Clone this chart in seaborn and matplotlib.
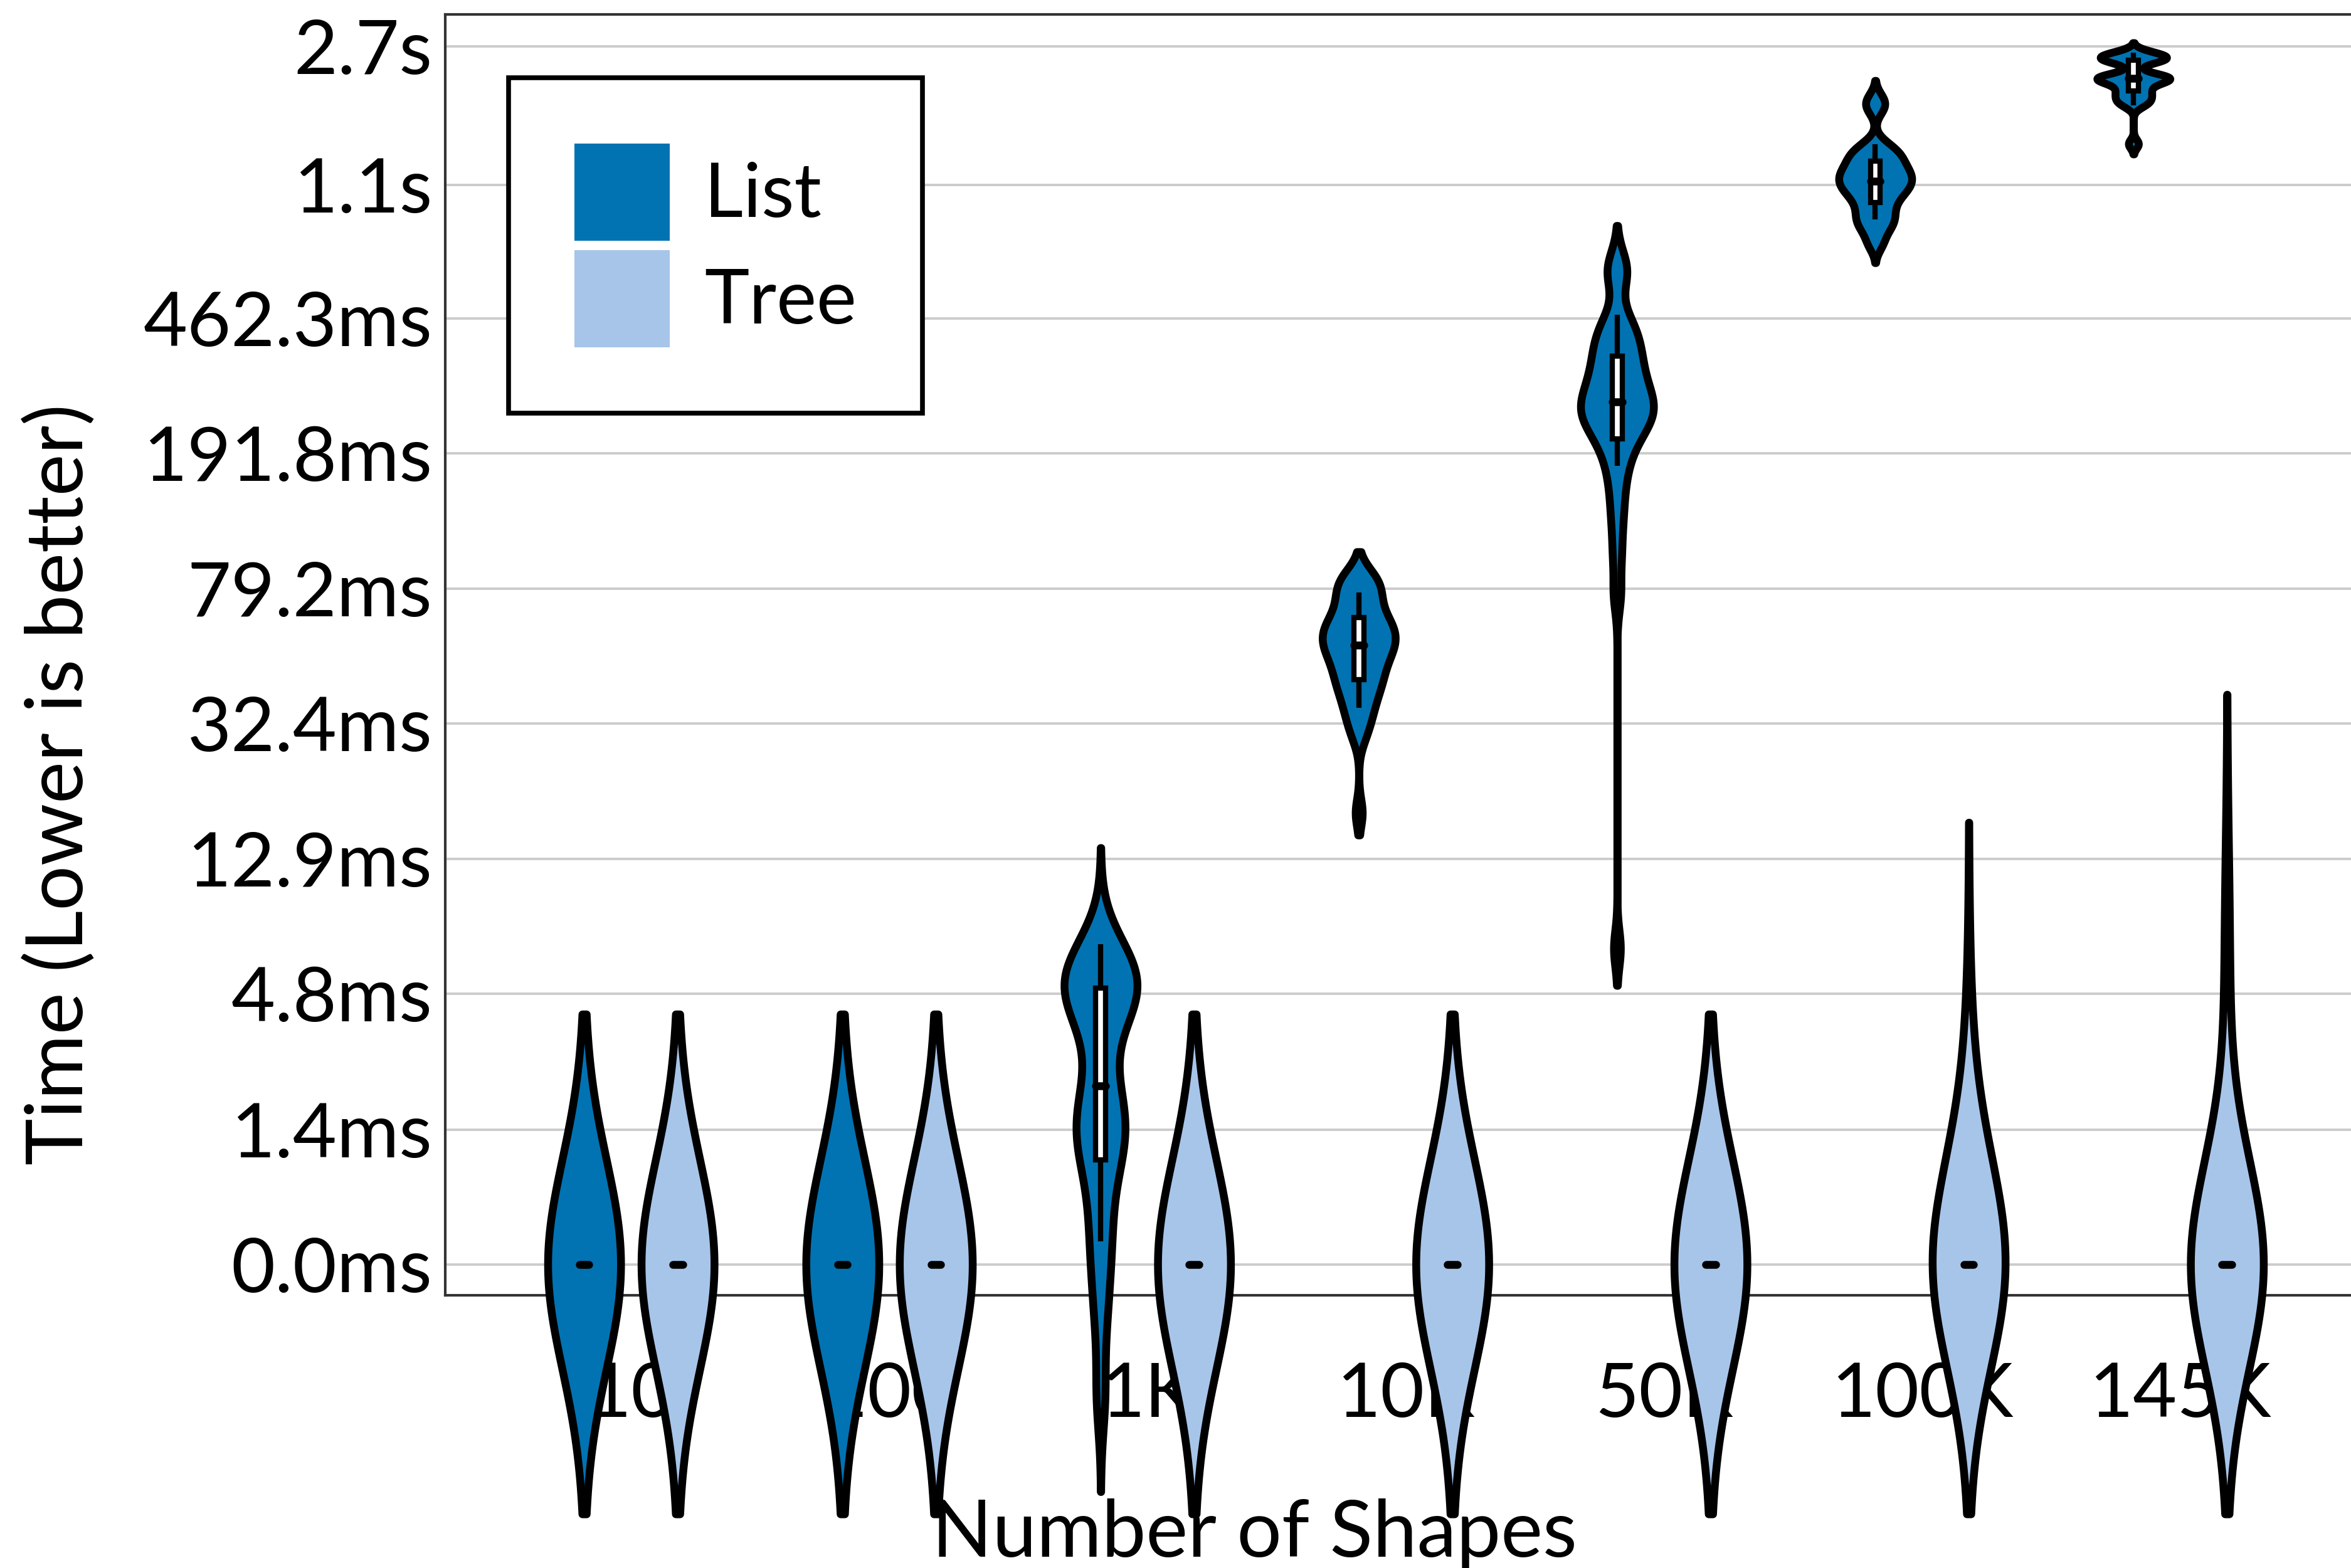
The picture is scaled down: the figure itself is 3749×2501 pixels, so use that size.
import numpy as np
import pandas as pd
import matplotlib
matplotlib.use("Agg")
import matplotlib.pyplot as plt
from matplotlib.patches import Patch
import seaborn as sns

# ---------------------------------------------------------------- data
categories = ["10", "100", "1K", "10K", "50K", "100K", "145K"]
series = ["List", "Tree"]
series_colors = ["#0173B2", "#A7C5E9"]

# Per-run query times, expressed on the ln(1 + ms) scale used by the y axis
list_10 = [0.0, 0.0, 0.0, 0.0, 0.0, 0.0, 0.0, 0.002, 0.004, 0.006]
list_100 = [0.0, 0.0, 0.0, 0.0, 0.0, 0.0, 0.0, 0.002, 0.004, 0.006]
list_1k = [-0.85, -0.35, -0.05, 0.15, 0.35, 0.55, 0.72, 0.78, 0.85, 0.92, 1.0, 1.1,
           1.22, 1.48, 1.62, 1.7, 1.75, 1.79, 1.81, 1.84, 1.88, 1.93, 1.99, 2.08]
list_10k = [2.93, 3.42, 3.5, 3.56, 3.61, 3.66, 3.7, 3.74, 3.77,
            3.8, 3.83, 3.86, 3.89, 3.92, 3.95, 3.97, 3.99, 4.01,
            4.03, 4.05, 4.07, 4.09, 4.11, 4.13, 4.15, 4.17, 4.19,
            4.22, 4.26, 4.3, 4.33, 4.36, 4.4, 4.43, 4.46, 4.48]
list_50k = [2.05, 4.35, 4.6, 4.8, 4.95, 5.08, 5.18, 5.26, 5.32,
            5.37, 5.41, 5.44, 5.47, 5.5, 5.52, 5.54, 5.56, 5.58,
            5.61, 5.64, 5.67, 5.7, 5.73, 5.77, 5.81, 5.85, 5.88,
            5.93, 5.97, 6.01, 6.05, 6.1, 6.16, 6.4, 6.45, 6.5]
list_100k = [6.62, 6.7, 6.75, 6.78, 6.82, 6.86, 6.9, 6.93, 6.96, 6.98, 7.0, 7.02,
             7.04, 7.06, 7.08, 7.1, 7.12, 7.15, 7.18, 7.2, 7.23, 7.27, 7.5, 7.56]
list_145k = [7.27, 7.52, 7.54, 7.56, 7.58, 7.6, 7.62, 7.64, 7.67, 7.68, 7.69, 7.69,
             7.7, 7.7, 7.71, 7.72, 7.8, 7.81, 7.82, 7.83, 7.83, 7.84, 7.85, 7.86]

tree_10 = [0.0, 0.0, 0.0, 0.0, 0.0, 0.0, 0.0, 0.002, 0.004, 0.006]
tree_100 = [0.0, 0.0, 0.0, 0.0, 0.0, 0.0, 0.0, 0.002, 0.004, 0.006]
tree_1k = [0.0, 0.0, 0.0, 0.0, 0.0, 0.0, 0.0, 0.002, 0.004, 0.006]
tree_10k = [0.0, 0.0, 0.0, 0.0, 0.0, 0.0, 0.0, 0.002, 0.004, 0.006]
tree_50k = [0.0, 0.0, 0.0, 0.0, 0.0, 0.0, 0.0, 0.002, 0.004, 0.006]
tree_100k = [0.0, 0.0, 0.0, 0.0, 0.0, 0.0, 0.0, 0.0, 0.0, 0.0, 0.0, 0.0,
             0.002, 0.004, 0.006, 1.25]
tree_145k = [0.0, 0.0, 0.0, 0.0, 0.0, 0.0, 0.0, 0.0, 0.0, 0.0, 0.0, 0.0,
             0.002, 0.004, 0.006, 2.08]

tick_ms = [0, 1.4, 4.8, 12.9, 32.4, 79.2, 191.8, 462.3, 1100, 2700]
tick_labels = ["0.0ms", "1.4ms", "4.8ms", "12.9ms", "32.4ms", "79.2ms",
               "191.8ms", "462.3ms", "1.1s", "2.7s"]

samples = {
    ("List", "10"): list_10, ("List", "100"): list_100, ("List", "1K"): list_1k,
    ("List", "10K"): list_10k, ("List", "50K"): list_50k,
    ("List", "100K"): list_100k, ("List", "145K"): list_145k,
    ("Tree", "10"): tree_10, ("Tree", "100"): tree_100, ("Tree", "1K"): tree_1k,
    ("Tree", "10K"): tree_10k, ("Tree", "50K"): tree_50k,
    ("Tree", "100K"): tree_100k, ("Tree", "145K"): tree_145k,
}

# kernel bandwidth (axis units) and cut for each violin
kde_default = (0.68, 2.38)
kde_style = {
    ("List", "1K"): (0.24, 2.6),
    ("List", "10K"): (0.09, 1.6),
    ("List", "50K"): (0.12, 2.0),
    ("List", "100K"): (0.055, 2.2),
    ("List", "145K"): (0.03, 2.2),
}

rows = [(cat, ser, v) for (ser, cat), vals in samples.items() for v in vals]
df = pd.DataFrame(rows, columns=["shapes", "series", "time"])

# ---------------------------------------------------------------- style
sns.set_style("white")
plt.rcParams["font.family"] = ["Lato", "DejaVu Sans"]
plt.rcParams["text.color"] = "black"
plt.rcParams["axes.labelcolor"] = "black"

fig = plt.figure(figsize=(37.49, 25.01), dpi=100)
ax = fig.add_axes([0.18938, 0.1739, 0.8170, 0.8169])

palette = dict(zip(series, series_colors))
WIDTH = 0.724

for (ser, cat), vals in samples.items():
    bw, cut = kde_style.get((ser, cat), kde_default)
    factor = bw / np.std(vals, ddof=1)
    n_before = len(ax.collections)
    sub = df[(df["series"] == ser) & (df["shapes"] == cat)]
    sns.violinplot(data=sub, x="shapes", y="time", hue="series",
                   order=categories, hue_order=series, palette=palette,
                   saturation=1, dodge=True, width=WIDTH, gap=0.22,
                   inner=None, density_norm="width", bw_method=factor,
                   cut=cut, gridsize=500, linewidth=9, linecolor="black",
                   legend=False, ax=ax)
    for coll in list(ax.collections)[n_before:]:
        coll.set_clip_on(False)
        coll.set_zorder(3)

# narrow white box plots inside the violins
n_lines, n_patches = len(ax.lines), len(ax.patches)
sns.boxplot(data=df, x="shapes", y="time", hue="series", order=categories,
            hue_order=series, palette={"List": "white", "Tree": "white"},
            saturation=1, dodge=True, width=WIDTH, gap=0.895, whis=0.5,
            linewidth=6, linecolor="black", showfliers=False, showcaps=False,
            medianprops={"solid_capstyle": "round", "linewidth": 9},
            legend=False, ax=ax)
for art in list(ax.lines)[n_lines:] + list(ax.patches)[n_patches:]:
    art.set_zorder(4)
    art.set_clip_on(False)

# ---------------------------------------------------------------- axes
ax.set_xlim(-0.7193, 6.7193)
ax.set_ylim(-0.2, 8.11)
ax.set_yticks(np.log1p(tick_ms))
ax.set_yticklabels(tick_labels)
ax.set_xticks(range(len(categories)))
ax.set_xticklabels(categories)

ax.set_xlabel("Number of Shapes", fontsize=91, va="top", color="black")
ax.set_ylabel("Time (Lower is better)", fontsize=91, color="black")
ax.xaxis.set_label_coords(0.4212, -0.1586)
ax.yaxis.set_label_coords(-0.1812, 0.399)

ax.tick_params(axis="x", length=21, width=5, color="#b3b3b3", pad=55,
               labelsize=87, labelcolor="black")
ax.tick_params(axis="y", length=0, pad=15, labelsize=87, labelcolor="black")

ax.grid(False)
ax.yaxis.grid(True, color="#cccccc", linewidth=2.8)
ax.set_axisbelow(True)
ax.set_facecolor("white")
for side in ["top", "bottom", "left", "right"]:
    ax.spines[side].set_color("#333333")
    ax.spines[side].set_linewidth(3)

handles = [Patch(facecolor=c, edgecolor="none", label=s)
           for s, c in zip(series, series_colors)]
leg = ax.legend(handles=handles, loc="upper left", bbox_to_anchor=(0.033, 0.9506),
                borderaxespad=0, fontsize=87, handlelength=1.26, handleheight=1.6,
                handletextpad=0.45, borderpad=0.87, labelspacing=0.12,
                frameon=True, fancybox=False, edgecolor="black", framealpha=1,
                labelcolor="black")
leg.get_frame().set_linewidth(5.5)
leg.set_zorder(6)

fig.savefig("out.png", dpi=100)
